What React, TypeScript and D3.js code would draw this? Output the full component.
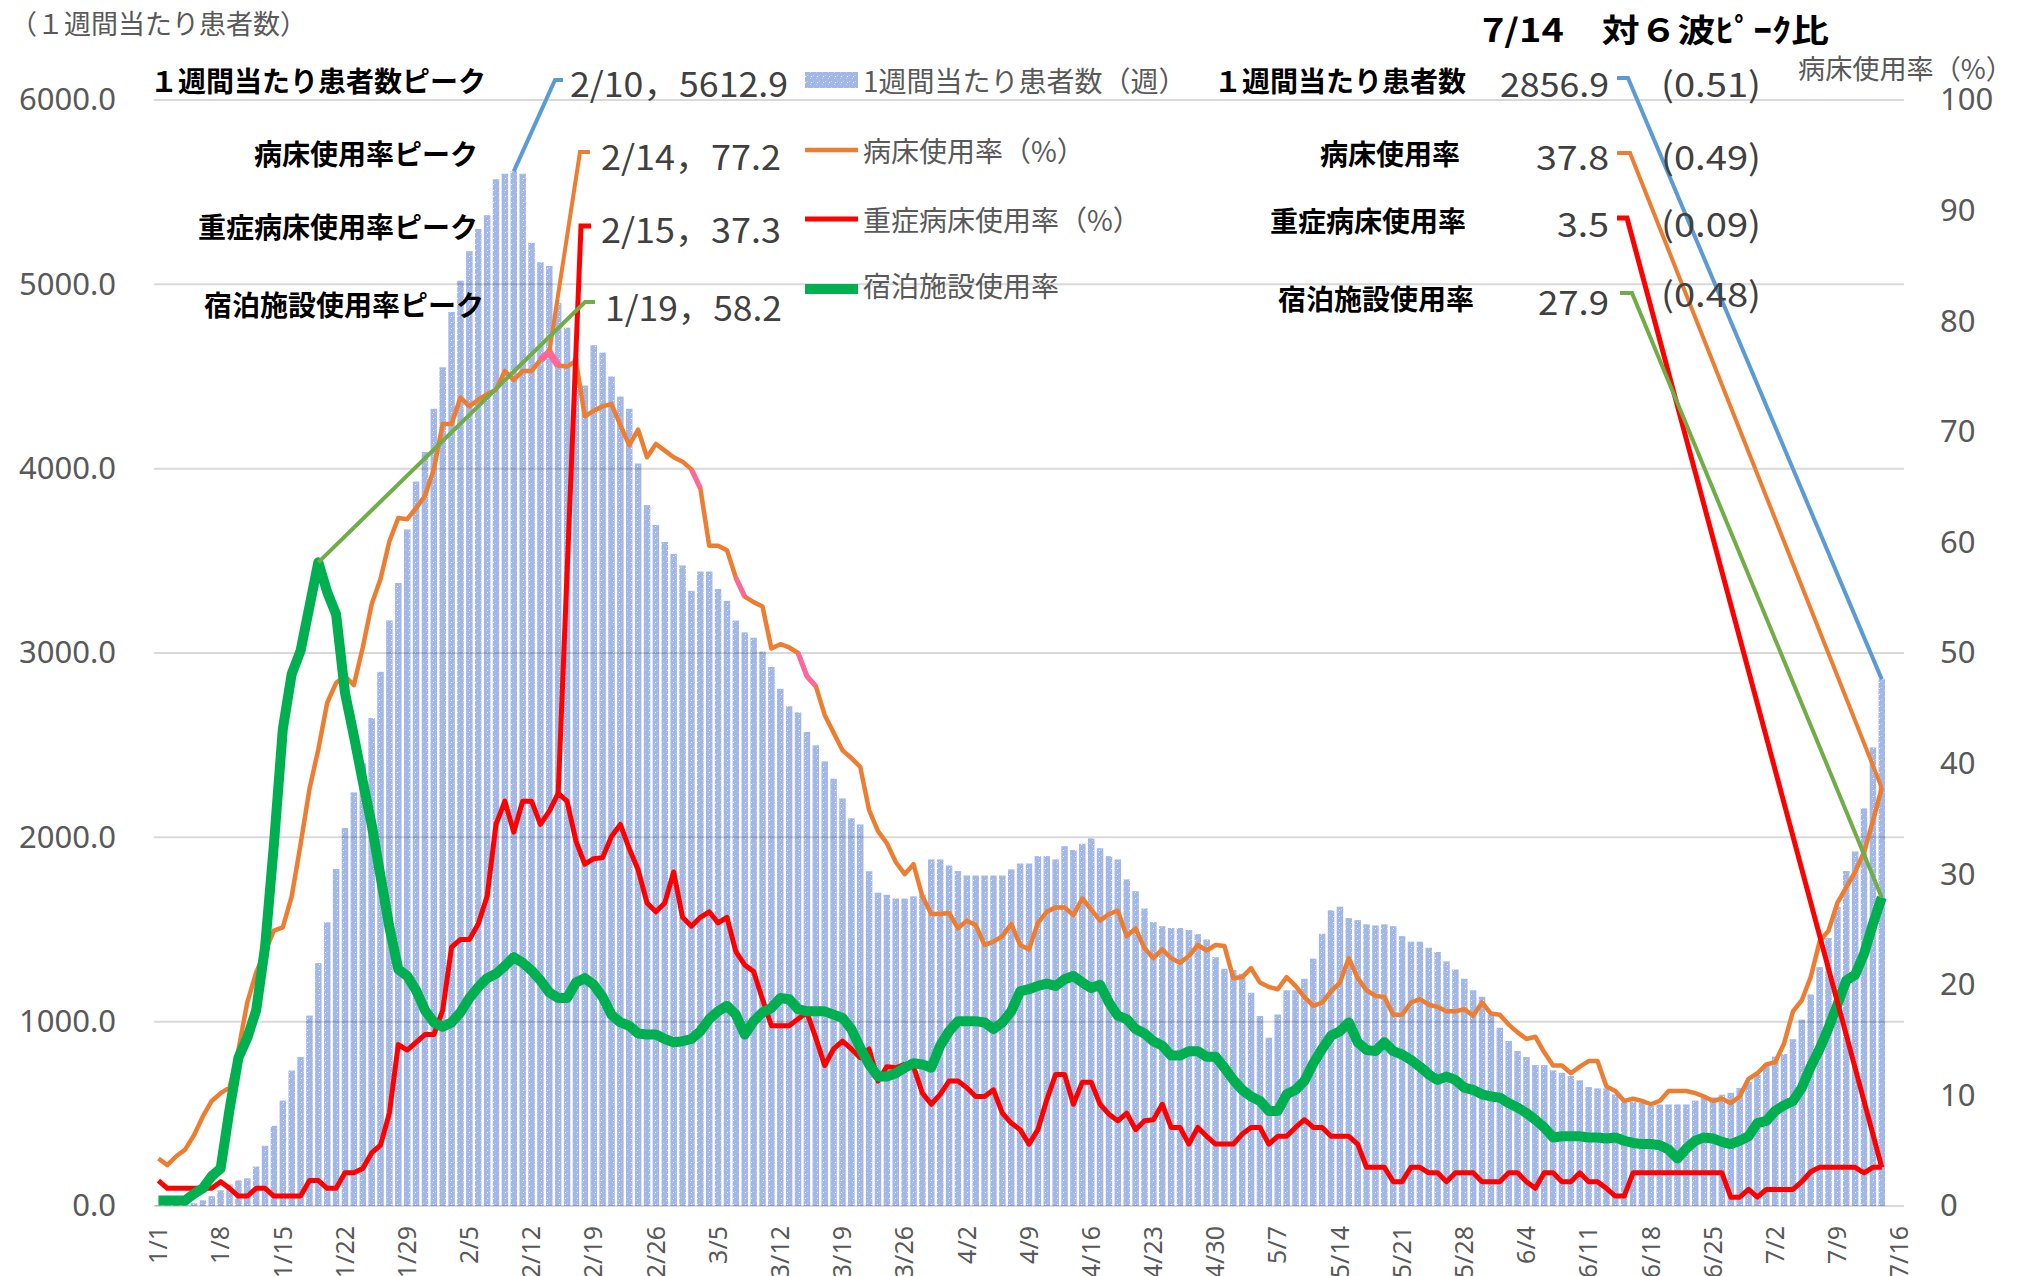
import React, { useEffect, useRef } from 'react';
import * as d3 from 'd3';

// categories: every day from 1/1 to 7/16
const days = d3.timeDay
  .range(new Date(2022, 0, 1), new Date(2022, 6, 17))
  .map((d) => `${d.getMonth() + 1}/${d.getDate()}`);

const xTickLabels = [
  '1/1', '1/8', '1/15', '1/22', '1/29', '2/5', '2/12', '2/19', '2/26', '3/5', '3/12', '3/19', '3/26', '4/2', '4/9',
  '4/16', '4/23', '4/30', '5/7', '5/14', '5/21', '5/28', '6/4', '6/11', '6/18', '6/25', '7/2', '7/9', '7/16',
];
const leftTicks = [0, 1000, 2000, 3000, 4000, 5000, 6000];
const rightTicks = [0, 10, 20, 30, 40, 50, 60, 70, 80, 90, 100];

// 1週間当たり患者数 (daily, 1/1 - 7/14)
const weeklyPatients = [
  3, 4, 6, 9, 15, 31, 53, 85, 117, 139,
  150, 214, 327, 435, 572, 735, 808, 1033, 1318, 1539,
  1828, 2051, 2244, 2401, 2647, 2898, 3177, 3380, 3670, 3930,
  4090, 4325, 4550, 4850, 5020, 5180, 5300, 5375, 5570, 5600,
  5612.9, 5600, 5225, 5120, 5100, 4900, 4765, 4600, 4451, 4670,
  4630, 4500, 4391, 4325, 4028, 3802, 3695, 3602, 3538, 3475,
  3337, 3442, 3442, 3347, 3283, 3176, 3112, 3083, 3008, 2924,
  2806, 2711, 2678, 2572, 2499, 2412, 2318, 2211, 2103, 2070,
  1816, 1700, 1688, 1668, 1668, 1680, 1690, 1880, 1880, 1847,
  1817, 1793, 1793, 1793, 1793, 1793, 1826, 1858, 1858, 1898,
  1898, 1880, 1952, 1931, 1965, 1994, 1941, 1898, 1880, 1772,
  1708, 1614, 1540, 1518, 1508, 1508, 1497, 1475, 1446, 1350,
  1287, 1280, 1260, 1157, 1031, 913, 1039, 1170, 1170, 1233,
  1342, 1477, 1604, 1624, 1562, 1551, 1528, 1522, 1528, 1518,
  1464, 1434, 1434, 1401, 1378, 1327, 1283, 1233, 1170, 1135,
  1040, 967, 895, 841, 808, 765, 765, 736, 723, 705,
  682, 645, 638, 638, 605, 566, 566, 560, 542, 551,
  551, 551, 551, 572, 589, 589, 604, 614, 640, 673,
  711, 768, 810, 825, 905, 1011, 1148, 1296, 1454, 1623,
  1817, 1923, 2157, 2488, 2856.9,
];

// 病床使用率（%）
const bedRate = [
  4.3, 3.7, 4.5, 5.1, 6.4, 8.1, 9.5, 10.2, 10.7, 14.1,
  18.4, 21.1, 23.0, 24.9, 25.2, 28.0, 32.7, 37.7, 41.3, 45.5,
  47.3, 47.9, 47.1, 50.5, 54.4, 56.7, 60.1, 62.2, 62.1, 63.1,
  64.2, 66.6, 70.7, 70.7, 73.1, 72.3, 72.9, 73.4, 73.8, 75.5,
  74.7, 75.5, 75.5, 76.5, 77.2, 76.0, 75.9, 76.4, 71.4, 71.9,
  72.3, 72.5, 70.6, 68.8, 70.2, 67.7, 68.9, 68.3, 67.7, 67.3,
  66.6, 64.9, 59.7, 59.7, 59.3, 56.8, 55.1, 54.6, 54.2, 50.4,
  50.8, 50.5, 50.0, 47.9, 47.0, 44.4, 42.8, 41.2, 40.5, 39.7,
  35.8, 33.9, 32.8, 31.1, 30.0, 30.9, 28.0, 26.4, 26.4, 26.5,
  25.1, 25.8, 25.4, 23.6, 23.9, 24.4, 25.5, 23.6, 23.2, 25.6,
  26.6, 27.0, 27.0, 26.3, 27.8, 26.8, 25.8, 26.4, 26.7, 24.4,
  25.1, 23.3, 22.4, 23.2, 22.4, 22.0, 22.6, 23.6, 23.1, 23.6,
  23.5, 20.6, 20.7, 21.5, 20.2, 19.8, 19.6, 20.7, 19.9, 18.9,
  18.1, 18.4, 19.4, 20.2, 22.4, 20.6, 19.5, 19.0, 18.9, 17.3,
  17.3, 18.4, 18.7, 18.2, 18.0, 17.6, 17.6, 17.8, 17.2, 18.4,
  17.4, 17.3, 16.4, 15.7, 15.1, 15.3, 13.9, 12.7, 12.7, 12.0,
  12.6, 13.1, 13.1, 10.8, 10.4, 9.5, 9.7, 9.5, 9.2, 9.5,
  10.4, 10.4, 10.4, 10.2, 9.9, 9.5, 9.7, 9.3, 9.9, 11.5,
  12.0, 12.8, 13.0, 14.7, 17.6, 18.6, 20.7, 23.9, 24.9, 27.4,
  28.8, 30.2, 32.0, 34.8, 37.8,
];

// 重症病床使用率（%）
const severeRate = [
  2.3, 1.6, 1.6, 1.6, 1.6, 1.6, 1.6, 2.2, 1.6, 0.9,
  0.9, 1.6, 1.6, 0.9, 0.9, 0.9, 0.9, 2.3, 2.3, 1.6,
  1.6, 3.0, 3.0, 3.4, 4.8, 5.5, 8.4, 14.6, 14.1, 14.8,
  15.5, 15.5, 17.7, 23.4, 24.1, 24.1, 25.5, 28.0, 34.5, 36.6,
  33.8, 36.6, 36.6, 34.5, 35.7, 37.3, 36.6, 33.0, 30.9, 31.4,
  31.5, 33.4, 34.5, 32.3, 30.4, 27.4, 26.6, 27.4, 30.2, 26.1,
  25.3, 26.1, 26.6, 25.6, 26.1, 23.0, 21.8, 21.2, 18.7, 16.3,
  16.3, 16.3, 16.9, 17.5, 15.2, 12.7, 14.2, 14.9, 14.2, 13.4,
  14.2, 11.3, 12.6, 12.5, 12.8, 12.6, 10.2, 9.2, 10.1, 11.3,
  11.3, 10.7, 9.9, 9.9, 10.5, 8.4, 7.5, 6.9, 5.6, 6.9,
  9.6, 11.9, 11.9, 9.2, 11.2, 11.2, 9.2, 8.3, 7.7, 8.4,
  6.9, 7.7, 7.8, 9.2, 7.1, 7.1, 5.6, 7.1, 6.3, 5.6,
  5.6, 5.6, 6.5, 7.1, 7.1, 5.6, 6.3, 6.3, 7.1, 7.8,
  7.1, 7.1, 6.3, 6.3, 6.3, 5.6, 3.5, 3.5, 3.5, 2.2,
  2.2, 3.5, 3.5, 3.0, 3.0, 2.2, 3.0, 3.0, 3.0, 2.2,
  2.2, 2.2, 3.0, 3.0, 2.2, 1.6, 3.0, 3.0, 2.2, 2.2,
  3.0, 2.2, 2.2, 1.6, 0.9, 0.9, 3.0, 3.0, 3.0, 3.0,
  3.0, 3.0, 3.0, 3.0, 3.0, 3.0, 3.0, 0.8, 0.8, 1.5,
  0.8, 1.5, 1.5, 1.5, 1.5, 2.2, 3.1, 3.5, 3.5, 3.5,
  3.5, 3.5, 3.0, 3.5, 3.5,
];

// 宿泊施設使用率
const lodgingRate = [
  0.5, 0.5, 0.5, 0.5, 1.1, 1.6, 2.7, 3.4, 8.7, 13.4,
  15.2, 17.7, 23.4, 32.7, 43.1, 48.1, 50.2, 54.2, 58.2, 55.5,
  53.5, 46.4, 42.5, 38.4, 34.5, 29.8, 25.2, 21.4, 20.8, 19.5,
  17.7, 16.6, 16.2, 16.6, 17.5, 18.8, 19.8, 20.6, 21.0, 21.7,
  22.5, 22.0, 21.3, 20.4, 19.3, 18.8, 18.8, 20.2, 20.6, 20.0,
  18.9, 17.3, 16.6, 16.3, 15.6, 15.5, 15.5, 15.1, 14.8, 14.9,
  15.1, 15.8, 16.9, 17.6, 18.1, 17.3, 15.5, 16.7, 17.5, 17.9,
  18.8, 18.7, 17.8, 17.6, 17.6, 17.6, 17.3, 17.0, 16.0, 14.3,
  12.8, 11.7, 11.7, 12.0, 12.5, 12.9, 12.8, 12.5, 14.5, 15.8,
  16.7, 16.7, 16.7, 16.6, 16.0, 16.6, 17.6, 19.4, 19.6, 19.9,
  20.1, 19.9, 20.5, 20.8, 20.2, 19.7, 20.0, 18.4, 17.2, 16.9,
  16.0, 15.6, 14.9, 14.5, 13.6, 13.6, 14.0, 14.0, 13.5, 13.5,
  12.5, 11.4, 10.5, 9.9, 9.5, 8.6, 8.6, 10.1, 10.5, 11.3,
  12.9, 14.2, 15.4, 15.8, 16.6, 14.8, 14.1, 14.0, 14.8, 14.0,
  13.7, 13.2, 12.6, 11.9, 11.4, 11.7, 11.4, 10.7, 10.5, 10.1,
  9.9, 9.8, 9.3, 8.9, 8.4, 7.8, 7.1, 6.2, 6.3, 6.3,
  6.3, 6.2, 6.2, 6.1, 6.2, 5.9, 5.7, 5.6, 5.6, 5.5,
  5.1, 4.3, 5.2, 5.9, 6.2, 6.1, 5.8, 5.6, 5.9, 6.3,
  7.5, 7.7, 8.6, 9.1, 9.5, 10.7, 12.6, 14.2, 16.1, 18.2,
  20.4, 20.9, 22.8, 25.5, 27.9,
];

// pieces of the 病床使用率 line that are drawn in pink in the original
const pinkSegments = [[43, 45], [60, 61], [65, 66], [72, 74]];

const legendLabels = ['1週間当たり患者数（週）', '病床使用率（%）', '重症病床使用率（%）', '宿泊施設使用率'];
const peakNames = ['１週間当たり患者数ピーク', '病床使用率ピーク', '重症病床使用率ピーク', '宿泊施設使用率ピーク'];
const peakTexts = ['2/10，5612.9', '2/14，77.2', '2/15，37.3', '1/19，58.2'];
const latestNames = ['１週間当たり患者数', '病床使用率', '重症病床使用率', '宿泊施設使用率'];
const latestValues = ['2856.9', '37.8', '3.5', '27.9'];
const peakRatios = ['(0.51)', '(0.49)', '(0.09)', '(0.48)'];

const seriesColors = ['#5b9bd5', '#ed7d31', '#ff0000', '#70ad47'];

function App() {
  const svgRef = useRef<SVGSVGElement>(null);
  const width = 2017;
  const height = 1276;
  const plot = { left: 154, right: 1904, top: 100, bottom: 1206 };

  useEffect(() => {
    const svg = d3.select(svgRef.current);
    svg.selectAll('*').remove();

    const jp = "'Noto Sans CJK JP', 'Noto Sans', sans-serif";
    const num = "'Noto Sans', 'DejaVu Sans', sans-serif";

    const x = d3.scaleBand<string>()
      .domain(days)
      .range([plot.left, plot.right])
      .paddingInner(0.27)
      .paddingOuter(0.135);
    const cx = (i: number) => (x(days[i]) as number) + x.bandwidth() / 2;
    const yL = d3.scaleLinear().domain([0, 6000]).range([plot.bottom, plot.top]);
    const yR = d3.scaleLinear().domain([0, 100]).range([plot.bottom, plot.top]);

    // bar texture (dotted pattern fill)
    const defs = svg.append('defs');
    const pat = defs.append('pattern')
      .attr('id', 'barPat')
      .attr('width', 6)
      .attr('height', 6)
      .attr('patternUnits', 'userSpaceOnUse');
    pat.append('rect').attr('width', 6).attr('height', 6).attr('fill', '#a2b7e4');
    pat.append('rect').attr('x', 0).attr('y', 0).attr('width', 1).attr('height', 1).attr('fill', '#c4d2f0');
    pat.append('rect').attr('x', 3).attr('y', 3).attr('width', 1).attr('height', 1).attr('fill', '#c4d2f0');
    pat.append('rect').attr('x', 1).attr('y', 4).attr('width', 1).attr('height', 1).attr('fill', '#ffffff');

    // bars
    svg.append('g')
      .selectAll('rect')
      .data(weeklyPatients)
      .enter()
      .append('rect')
      .attr('x', (d, i) => x(days[i]) as number)
      .attr('width', x.bandwidth())
      .attr('y', (d) => yL(d))
      .attr('height', (d) => plot.bottom - yL(d))
      .attr('fill', 'url(#barPat)');

    // gridlines (drawn over the bars, semi transparent like the original)
    svg.append('g')
      .selectAll('line')
      .data(leftTicks)
      .enter()
      .append('line')
      .attr('x1', plot.left)
      .attr('x2', plot.right)
      .attr('y1', (d) => yL(d))
      .attr('y2', (d) => yL(d))
      .attr('stroke', 'rgba(0,0,0,0.15)')
      .attr('stroke-width', 2);

    // left axis
    const leftAxis = svg.append('g')
      .attr('transform', `translate(${plot.left},0)`)
      .call(d3.axisLeft(yL).tickValues(leftTicks).tickFormat(d3.format('.1f')).tickSize(0).tickPadding(38));
    leftAxis.select('.domain').remove();
    leftAxis.selectAll('text')
      .attr('fill', '#595959')
      .attr('font-family', num)
      .attr('font-size', 31);

    // right axis
    const rightAxis = svg.append('g')
      .attr('transform', `translate(${plot.right},0)`)
      .call(d3.axisRight(yR).tickValues(rightTicks).tickSize(0).tickPadding(36));
    rightAxis.select('.domain').remove();
    rightAxis.selectAll('text')
      .attr('fill', '#595959')
      .attr('font-family', num)
      .attr('font-size', 31);

    // bottom axis, rotated labels
    const xAxis = svg.append('g')
      .attr('transform', `translate(0,${plot.bottom})`)
      .call(d3.axisBottom(x).tickValues(xTickLabels).tickSize(0));
    xAxis.select('.domain').remove();
    xAxis.selectAll('text')
      .attr('transform', 'rotate(-90)')
      .attr('x', -20)
      .attr('y', 0)
      .attr('dy', '0.35em')
      .attr('text-anchor', 'end')
      .attr('fill', '#595959')
      .attr('font-family', num)
      .attr('font-size', 25);

    // lines
    const lineR = d3.line<number>().x((d, i) => cx(i)).y((d) => yR(d));
    svg.append('path')
      .attr('d', lineR(bedRate))
      .attr('fill', 'none')
      .attr('stroke', '#ed7d31')
      .attr('stroke-width', 4.5)
      .attr('stroke-linejoin', 'round');
    pinkSegments.forEach(([a, b]) => {
      const seg = d3.range(a, b + 1);
      svg.append('path')
        .attr('d', d3.line<number>().x((i) => cx(i)).y((i) => yR(bedRate[i]))(seg))
        .attr('fill', 'none')
        .attr('stroke', '#ff6699')
        .attr('stroke-width', a === 43 ? 7 : 5);
    });
    svg.append('path')
      .attr('d', lineR(severeRate))
      .attr('fill', 'none')
      .attr('stroke', '#ff0000')
      .attr('stroke-width', 5)
      .attr('stroke-linejoin', 'round');
    svg.append('path')
      .attr('d', lineR(lodgingRate))
      .attr('fill', 'none')
      .attr('stroke', '#00b050')
      .attr('stroke-width', 10)
      .attr('stroke-linejoin', 'round');

    // callout lines to the peaks (left labels)
    const peakIdx = [
      d3.maxIndex(weeklyPatients), d3.maxIndex(bedRate), d3.maxIndex(severeRate), d3.maxIndex(lodgingRate),
    ];
    const peakPts: [number, number][] = [
      [cx(peakIdx[0]), yL(weeklyPatients[peakIdx[0]])],
      [cx(peakIdx[1]), yR(bedRate[peakIdx[1]])],
      [cx(peakIdx[2]), yR(severeRate[peakIdx[2]])],
      [cx(peakIdx[3]), yR(lodgingRate[peakIdx[3]])],
    ];
    const leftElbows = [[555, 80, 563], [580, 152, 590], [581, 226, 591], [585, 302, 595]];
    leftElbows.forEach(([ex, ey, ex2], k) => {
      svg.append('path')
        .attr('d', `M${peakPts[k][0]},${peakPts[k][1]}L${ex},${ey}L${ex2},${ey}`)
        .attr('fill', 'none')
        .attr('stroke', seriesColors[k])
        .attr('stroke-width', k === 2 ? 5 : 4);
    });

    // callout lines to the latest values (right labels)
    const last = weeklyPatients.length - 1;
    const lastPts: [number, number][] = [
      [cx(last), yL(weeklyPatients[last])],
      [cx(last), yR(bedRate[last])],
      [cx(last), yR(severeRate[last])],
      [cx(last), yR(lodgingRate[last])],
    ];
    const rightElbows = [[1617, 78, 1628], [1617, 153, 1630], [1617, 218, 1627], [1620, 293, 1632]];
    rightElbows.forEach(([ex, ey, ex2], k) => {
      svg.append('path')
        .attr('d', `M${ex},${ey}L${ex2},${ey}L${lastPts[k][0]},${lastPts[k][1]}`)
        .attr('fill', 'none')
        .attr('stroke', seriesColors[k])
        .attr('stroke-width', k === 2 ? 5 : 4);
    });

    const addText = (tx: number, ty: number, str: string, o: any = {}) => {
      const t = svg.append('text')
        .attr('x', tx)
        .attr('y', ty)
        .attr('dominant-baseline', 'central')
        .attr('text-anchor', o.anchor || 'start')
        .attr('font-family', o.font || jp)
        .attr('font-size', o.size || 28)
        .attr('font-weight', o.weight || 400)
        .attr('fill', o.fill || '#595959')
        .text(str);
      if (o.len) t.attr('textLength', o.len).attr('lengthAdjust', 'spacingAndGlyphs');
      return t;
    };

    // titles
    addText(10, 22, '（１週間当たり患者数）', { size: 27 });
    addText(1798, 67, '病床使用率（%）', { size: 27, len: 215 });
    addText(1482, 28, '7/14　対６波ﾋﾟｰｸ比', { size: 32, weight: 700, fill: '#000', len: 347 });

    // legend
    const legendY = [80, 150, 219, 289];
    svg.append('rect').attr('x', 805).attr('y', legendY[0] - 8).attr('width', 53).attr('height', 16)
      .attr('fill', 'url(#barPat)');
    [['#ed7d31', 4.5], ['#ff0000', 5], ['#00b050', 10]].forEach(([c, w], k) => {
      svg.append('line')
        .attr('x1', 805).attr('x2', 858)
        .attr('y1', legendY[k + 1]).attr('y2', legendY[k + 1])
        .attr('stroke', c as string)
        .attr('stroke-width', w as number);
    });
    legendLabels.forEach((s, k) => addText(863, legendY[k] - (k === 3 ? 4 : 0), s, { size: 28 }));

    // left block: peaks
    const peakNameX = [486, 478, 478, 484];
    const peakRowY = [80, 153, 226, 304];
    const peakTextX = [570, 601, 601, 605];
    const peakTextLen = [218, 180, 180, 177];
    peakNames.forEach((s, k) => addText(peakNameX[k], peakRowY[k], s, { anchor: 'end', weight: 700, fill: '#000', size: 28 }));
    peakTexts.forEach((s, k) => addText(peakTextX[k], peakRowY[k] + 2, s, { size: 34, fill: '#404040', len: peakTextLen[k] }));

    // right block: latest values and ratio to the peak
    const latestRowY = [80, 153, 220, 298];
    const latestNameX = [1466, 1460, 1466, 1474];
    const latestValLen = [109, 73, 52, 71];
    const ratioY = [80, 153, 220, 290];
    latestNames.forEach((s, k) => addText(latestNameX[k], latestRowY[k], s, { anchor: 'end', weight: 700, fill: '#000', size: 28 }));
    latestValues.forEach((s, k) => addText(1609, latestRowY[k] + 2, s, { anchor: 'end', size: 34, fill: '#404040', len: latestValLen[k] }));
    peakRatios.forEach((s, k) => addText(1661, ratioY[k] + 2, s, { size: 34, fill: '#404040', len: 100 }));
  }, []);

  return (
    <svg
      ref={svgRef}
      width={width}
      height={height}
      style={{ position: 'absolute', left: 0, top: 0, background: '#ffffff' }}
    />
  );
}

export default App;
